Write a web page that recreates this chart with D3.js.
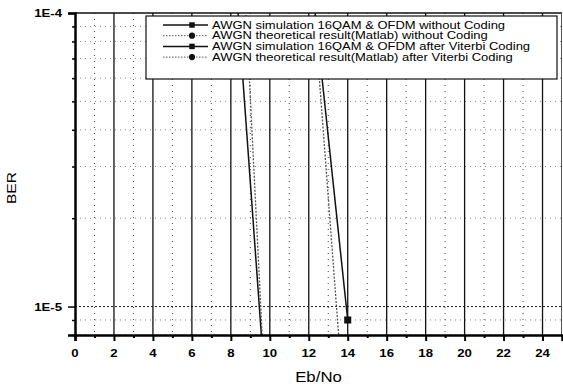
<!DOCTYPE html>
<html>
<head>
<meta charset="utf-8">
<script src="https://cdn.jsdelivr.net/npm/d3@7"></script>
<style>
  body { margin: 0; background: #fff; }
  svg { display: block; font-family: "Liberation Sans", Arial, sans-serif; }
</style>
</head>
<body>
<div id="chart"></div>
<script>
// Eb/No (dB) and BER
const simNoCodingX = [8, 10];
const simNoCodingBER = [2.2e-4, 3.2e-6];
const theoryNoCodingX = [8, 10];
const theoryNoCodingBER = [1.1e-3, 2.4e-6];
const simViterbiX = [12, 14];
const simViterbiBER = [1.6e-4, 9e-6];
const theoryViterbiX = [12, 14];
const theoryViterbiBER = [1.8e-4, 3.1e-6];

const xTickValues = d3.range(0, 25, 2);
const xMinorValues = d3.range(1, 25, 2);
const yTickValues = [1e-5, 1e-4];
const yTickLabels = ['1E-5', '1E-4'];
const yMinorValues = [8e-6, 9e-6, 2e-5, 3e-5, 4e-5, 5e-5, 6e-5, 7e-5, 8e-5, 9e-5];

const legendLabels = [
  'AWGN simulation 16QAM & OFDM without Coding',
  'AWGN theoretical result(Matlab) without Coding',
  'AWGN simulation 16QAM & OFDM after Viterbi Coding',
  'AWGN theoretical result(Matlab) after Viterbi Coding'
];

const series = [
  { x: simNoCodingX, y: simNoCodingBER, dashed: false, marker: 'square' },
  { x: theoryNoCodingX, y: theoryNoCodingBER, dashed: true, marker: 'circle' },
  { x: simViterbiX, y: simViterbiBER, dashed: false, marker: 'square' },
  { x: theoryViterbiX, y: theoryViterbiBER, dashed: true, marker: 'circle' }
];

const width = 563, height = 388;
const margin = { top: 13, right: 1, bottom: 53, left: 75 };
const sx = 1.2; // the scan is stretched sideways

const svg = d3.select('#chart').append('svg')
  .attr('width', width)
  .attr('height', height);

const x = d3.scaleLinear().domain([0, 25]).range([margin.left, width - margin.right]);
const y = d3.scaleLog().domain([8e-6, 1e-4]).range([height - margin.bottom, margin.top]);

svg.append('defs').append('clipPath').attr('id', 'clip')
  .append('rect')
  .attr('x', margin.left).attr('y', margin.top)
  .attr('width', x.range()[1] - margin.left)
  .attr('height', y.range()[0] - margin.top);

// grid
const grid = svg.append('g');
grid.selectAll('.hminor')
  .data(yMinorValues)
  .enter().append('line')
  .attr('x1', margin.left).attr('x2', x.range()[1])
  .attr('y1', d => y(d)).attr('y2', d => y(d))
  .style('stroke', '#888').style('stroke-width', 1).style('stroke-dasharray', '1,4');
grid.append('line')
  .attr('x1', margin.left).attr('x2', x.range()[1])
  .attr('y1', y(1e-5)).attr('y2', y(1e-5))
  .style('stroke', '#222').style('stroke-width', 1).style('stroke-dasharray', '2,2');
grid.selectAll('.vminor')
  .data(xMinorValues)
  .enter().append('line')
  .attr('x1', d => x(d)).attr('x2', d => x(d))
  .attr('y1', margin.top).attr('y2', y.range()[0])
  .style('stroke', '#444').style('stroke-width', 1).style('stroke-dasharray', '1,5');
grid.selectAll('.vmajor')
  .data(xTickValues.filter(d => d > 0))
  .enter().append('line')
  .attr('x1', d => x(d)).attr('x2', d => x(d))
  .attr('y1', margin.top).attr('y2', y.range()[0])
  .style('stroke', '#111').style('stroke-width', 1.3);

// frame
svg.append('line')
  .attr('x1', margin.left).attr('x2', x.range()[1])
  .attr('y1', margin.top).attr('y2', margin.top)
  .style('stroke', '#111').style('stroke-width', 1.5);
svg.append('line')
  .attr('x1', x.range()[1] - 0.5).attr('x2', x.range()[1] - 0.5)
  .attr('y1', margin.top).attr('y2', y.range()[0])
  .style('stroke', '#555').style('stroke-width', 1);

// series
const plot = svg.append('g').attr('clip-path', 'url(#clip)');
const line = d3.line().x(d => x(d[0])).y(d => y(d[1]));
series.forEach(s => {
  const pts = s.x.map((v, i) => [v, s.y[i]]);
  plot.append('path')
    .datum(pts)
    .attr('d', line)
    .style('fill', 'none')
    .style('stroke', s.dashed ? '#555' : '#111')
    .style('stroke-width', s.dashed ? 1.3 : 1.5)
    .style('stroke-dasharray', s.dashed ? '2,1.5' : null);
  plot.selectAll(null)
    .data(pts)
    .enter().append('path')
    .attr('transform', d => `translate(${x(d[0])},${y(d[1])})`)
    .attr('d', d3.symbol().type(s.marker === 'square' ? d3.symbolSquare : d3.symbolCircle).size(50))
    .style('fill', '#111');
});

// axes
const xAxis = svg.append('g')
  .attr('transform', `translate(0,${y.range()[0]})`)
  .call(d3.axisBottom(x).tickValues(xTickValues).tickSize(6).tickFormat(''));
xAxis.select('.domain').style('stroke-width', 2.5);
xAxis.selectAll('.tick line').style('stroke-width', 2);
svg.append('g')
  .attr('transform', `translate(0,${y.range()[0]})`)
  .call(d3.axisBottom(x).tickValues(xMinorValues).tickSize(3).tickFormat(''))
  .call(g => g.select('.domain').remove())
  .selectAll('.tick line').style('stroke-width', 2);

const yAxis = svg.append('g')
  .attr('transform', `translate(${margin.left},0)`)
  .call(d3.axisLeft(y).tickValues(yTickValues).tickSize(7).tickFormat(''));
yAxis.select('.domain').style('stroke-width', 2.5);
yAxis.selectAll('.tick line').style('stroke-width', 1.5);
svg.append('g')
  .attr('transform', `translate(${margin.left},0)`)
  .call(d3.axisLeft(y).tickValues(yMinorValues).tickSize(3).tickFormat(''))
  .call(g => g.select('.domain').remove())
  .selectAll('.tick line').style('stroke-width', 1.5);

// tick labels
svg.selectAll('.xlab')
  .data(xTickValues)
  .enter().append('text')
  .attr('transform', d => `translate(${x(d)},${y.range()[0] + 22}) scale(${sx},1)`)
  .attr('text-anchor', 'middle')
  .style('font-size', '11px').style('font-weight', 'bold')
  .text(d => d);
svg.selectAll('.ylab')
  .data(yTickValues)
  .enter().append('text')
  .attr('transform', d => `translate(${margin.left - 13},${y(d) + 4}) scale(${sx},1)`)
  .attr('text-anchor', 'end')
  .style('font-size', '11px').style('font-weight', 'bold')
  .text((d, i) => yTickLabels[i]);

// axis titles
svg.append('text')
  .attr('transform', `translate(${(margin.left + x.range()[1]) / 2},${height - 6}) scale(${sx},1)`)
  .attr('text-anchor', 'middle')
  .style('font-size', '14px')
  .text('Eb/No');
svg.append('text')
  .attr('transform', `translate(16,${(margin.top + y.range()[0]) / 2 + 14}) rotate(-90) scale(1.2,1)`)
  .attr('text-anchor', 'middle')
  .style('font-size', '13px')
  .text('BER');

// legend
const legend = svg.append('g').attr('transform', 'translate(146,16)');
legend.append('rect')
  .attr('width', 411).attr('height', 63)
  .style('fill', '#fff').style('stroke', '#111').style('stroke-width', 1.2);
const rows = legend.selectAll('.row')
  .data(series)
  .enter().append('g')
  .attr('transform', (d, i) => `translate(0,${9 + i * 10.7})`);
rows.append('line')
  .attr('x1', 17).attr('x2', 62)
  .style('stroke', d => d.dashed ? '#555' : '#111')
  .style('stroke-width', d => d.dashed ? 1 : 1.5)
  .style('stroke-dasharray', d => d.dashed ? '1.5,1.5' : null);
rows.append('path')
  .attr('transform', 'translate(46,0)')
  .attr('d', d => d3.symbol().type(d.marker === 'square' ? d3.symbolSquare : d3.symbolCircle).size(30)())
  .style('fill', '#111');
rows.append('text')
  .attr('transform', 'translate(66,3.5) scale(1.3,1)')
  .style('font-size', '10px')
  .text((d, i) => legendLabels[i]);
</script>
</body>
</html>
